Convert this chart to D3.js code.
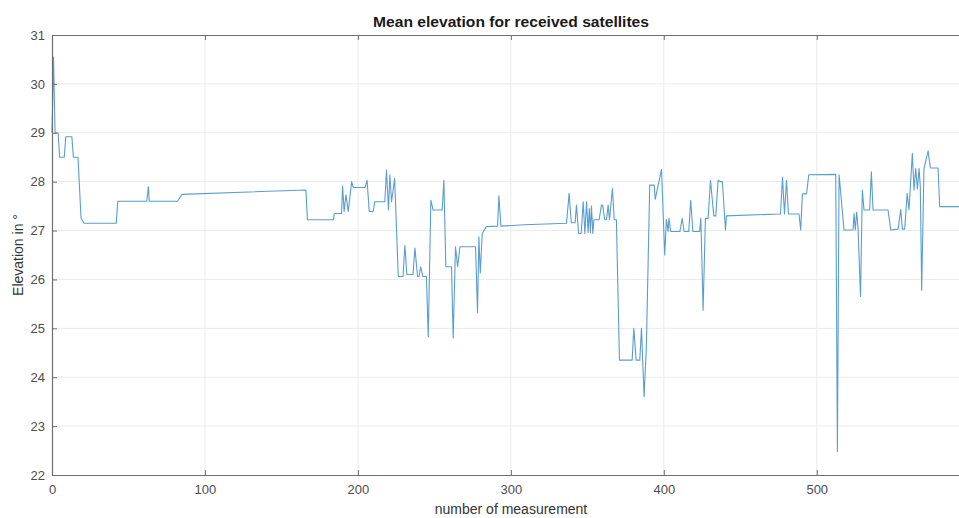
<!DOCTYPE html>
<html>
<head>
<meta charset="utf-8">
<script src="https://cdn.jsdelivr.net/npm/d3@7"></script>
<style>
  html, body { margin: 0; padding: 0; background: #fff; }
  svg { display: block; font-family: "Liberation Sans", Arial, Helvetica, sans-serif; }
</style>
</head>
<body>
<svg id="chart" width="959" height="518"></svg>
<script>
// Mean elevation per measurement (breakpoints of the trace)
const measurement = [
  0, 1, 2, 4, 5, 8, 9, 13, 14, 17, 19, 21, 42, 43, 62, 63, 63.6, 82, 85, 166, 167,
  184, 184.5, 189.3, 190, 191, 192.2, 193.7, 195.9, 197, 204.6, 206, 207.4, 210, 211, 217.6, 218.7, 220, 220.9, 222, 224, 226.4,
  229.5, 230.7, 232, 236, 237.3, 239, 240, 241, 242.5, 244.8, 246, 247.7, 249.2, 255.1, 256.2, 257.5, 261.2, 262.3, 263.8, 265.2, 266.7, 276.9,
  278.2, 279.1, 280, 281.3, 284, 291.3, 292.2, 293.5, 309, 336.4, 338.1, 339.5, 342, 342.9, 344.3, 346, 347.3, 348.4, 349.5, 350.5,
  351.3, 352, 352.7, 353.6, 354.3, 357.7, 359.2, 360, 361.4, 362.5, 363.6, 364.5, 366.4, 367.6, 369, 371, 379.3, 380.4, 381.9,
  384.3, 385.4, 386.2, 387.1, 388.6, 390.8, 393.7, 394.4, 396.3, 398.5, 400.6, 401.7, 402.8, 403.4, 404.5, 410.5, 412, 413.3,
  416.3, 417.6, 419, 423.5, 424.2, 425.7, 427.2, 429, 430.5, 432.7, 434, 435.5, 437, 438.3, 440.3, 441, 476.3, 477.6, 478.9,
  480.2, 481.5, 488.4, 489.5, 490.6, 493.3, 494.8, 512.4, 513.5, 514.6, 515.6, 517.8, 523.7, 524.4, 525.2, 526.1, 527, 528.6,
  529.8, 530.9, 534.6, 535.7, 536.8, 546.6, 548.4, 553.2, 554.9, 556, 557.5, 559.1, 560.3, 562.5, 563.6, 564.7, 565.8, 566.9,
  567.7, 568.6, 570.1, 572.8, 574.3, 579.3, 580.4, 593
];
const elevation = [
  29.0, 30.55, 29.0, 29.0, 28.5, 28.5, 28.92, 28.92, 28.5, 28.5, 27.25, 27.15, 27.15, 27.6, 27.6, 27.9, 27.6, 27.6, 27.74, 27.83, 27.22,
  27.22, 27.35, 27.35, 27.91, 27.39, 27.73, 27.39, 28.0, 27.88, 27.88, 28.03, 27.39, 27.39, 27.59, 27.59, 28.24, 27.42, 28.14, 27.59, 28.07, 26.06,
  26.06, 26.7, 26.1, 26.1, 26.64, 26.06, 26.06, 26.26, 26.06, 26.06, 24.83, 27.62, 27.42, 27.42, 28.03, 26.26, 26.26, 24.8, 26.67, 26.26, 26.67, 26.67,
  25.32, 26.87, 26.13, 26.94, 27.08, 27.09, 27.71, 27.09, 27.12, 27.15, 27.76, 27.16, 27.16, 27.52, 26.94, 26.94, 27.59, 26.94, 27.59, 26.96,
  27.45, 26.96, 27.5, 26.94, 27.22, 27.22, 27.52, 27.52, 27.22, 27.22, 27.52, 27.22, 27.86, 27.22, 27.22, 24.35, 24.35, 25.0, 24.35,
  24.35, 25.0, 24.35, 23.6, 24.62, 27.93, 27.93, 27.64, 27.93, 28.25, 26.5, 27.23, 26.98, 27.25, 26.98, 26.98, 27.25, 26.98,
  26.98, 27.62, 26.98, 26.98, 27.25, 25.37, 27.25, 27.25, 28.03, 27.3, 27.3, 28.03, 28.0, 28.0, 27.01, 27.3, 27.34, 28.09, 27.34,
  28.03, 27.34, 27.34, 27.01, 27.75, 27.75, 28.14, 28.15, 22.48, 28.14, 27.8, 27.01, 27.01, 27.35, 27.01, 27.38, 27.05, 25.65,
  27.83, 27.42, 27.42, 28.2, 27.42, 27.42, 27.01, 27.03, 27.43, 27.03, 27.03, 27.76, 27.42, 28.58, 27.83, 28.27, 27.85, 28.27,
  27.9, 25.78, 28.27, 28.63, 28.28, 28.28, 27.49, 27.49
];
const xTicks = [0, 100, 200, 300, 400, 500];
const yTicks = [22, 23, 24, 25, 26, 27, 28, 29, 30, 31];

const titleText = "Mean elevation for received satellites";
const xLabelText = "number of measurement";
const yLabelText = "Elevation in °";

const margin = { left: 52, top: 35, right: 0, bottom: 43 };
const width = 959 - margin.left - margin.right;
const height = 518 - margin.top - margin.bottom;

const svg = d3.select("#chart");
const g = svg.append("g").attr("transform", `translate(${margin.left},${margin.top})`);

const x = d3.scaleLinear().domain([0, 593]).range([0, width]);
const y = d3.scaleLinear().domain([22, 31]).range([height, 0]);

const axisColor = "#6e6e6e";
const textColor = "#4d4d4d";

// grid
g.append("g").selectAll("line.vg").data(xTicks.filter(d => d > 0)).join("line")
  .attr("x1", d => x(d)).attr("x2", d => x(d)).attr("y1", 0).attr("y2", height)
  .attr("stroke", "#ebebeb").attr("stroke-width", 1);
g.append("g").selectAll("line.hg").data(yTicks.filter(d => d > 22 && d < 31)).join("line")
  .attr("x1", 0).attr("x2", width).attr("y1", d => y(d)).attr("y2", d => y(d))
  .attr("stroke", "#ebebeb").attr("stroke-width", 1);

// data trace
const pts = measurement.map((m, i) => [m, elevation[i]]);
const line = d3.line().x(d => x(d[0])).y(d => y(d[1]));
g.append("path").datum(pts)
  .attr("d", line)
  .attr("fill", "none")
  .attr("stroke", "#5a9dd0")
  .attr("stroke-width", 1.1)
  .attr("stroke-linejoin", "round");

// axes (ticks drawn inward)
const xAxis = d3.axisBottom(x).tickValues(xTicks).tickSizeInner(-5).tickSizeOuter(0).tickPadding(10);
const yAxis = d3.axisLeft(y).tickValues(yTicks).tickSizeInner(-5).tickSizeOuter(0).tickPadding(7);
const xTop = d3.axisTop(x).tickValues(xTicks).tickSizeInner(-5).tickSizeOuter(0).tickFormat("");

const gx = g.append("g").attr("transform", `translate(0,${height})`).call(xAxis);
const gy = g.append("g").call(yAxis);
const gt = g.append("g").call(xTop);
[gx, gy, gt].forEach(a => {
  a.selectAll(".domain").attr("stroke", axisColor).attr("stroke-width", 1.2);
  a.selectAll(".tick line").attr("stroke", axisColor);
  a.selectAll(".tick text").attr("fill", textColor).attr("font-size", 13)
    .attr("font-family", "'Liberation Sans', Arial, sans-serif");
});

// title and labels
svg.append("text").attr("x", margin.left + 459).attr("y", 27)
  .attr("text-anchor", "middle").attr("font-size", 14).attr("font-weight", "bold")
  .attr("fill", "#1a1a1a").attr("textLength", 276).attr("lengthAdjust", "spacingAndGlyphs")
  .text(titleText);
svg.append("text").attr("x", margin.left + 459).attr("y", 514)
  .attr("text-anchor", "middle").attr("font-size", 14).attr("fill", "#333")
  .text(xLabelText);
svg.append("text").attr("transform", `translate(23,${margin.top + height / 2}) rotate(-90)`)
  .attr("text-anchor", "middle").attr("font-size", 14).attr("fill", "#333")
  .text(yLabelText);
</script>
</body>
</html>
